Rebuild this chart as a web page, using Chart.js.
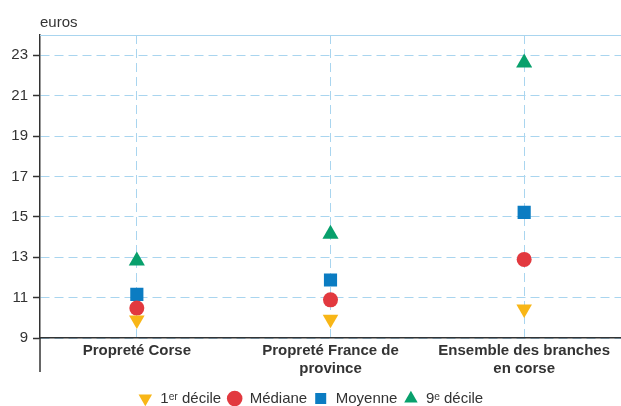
<!DOCTYPE html>
<html>
<head>
<meta charset="utf-8">
<script src="https://cdn.jsdelivr.net/npm/chart.js@4"></script>
<style>
  html, body { margin: 0; padding: 0; background: #fff; }
  #wrap { width: 621px; height: 406px; position: relative; }
</style>
</head>
<body>
<div id="wrap"><canvas id="c" width="621" height="406"></canvas></div>
<script>
// categories (multi-line labels)
const CATEGORIES = [
  ['Propreté Corse'],
  ['Propreté France de', 'province'],
  ['Ensemble des branches', 'en corse'],
];
const Y_TICKS = [9, 11, 13, 15, 17, 19, 21, 23];

// salaire horaire, euros
const DECILE1  = [9.89, 9.93, 10.44];
const MEDIANE  = [10.48, 10.89, 12.89];
const MOYENNE  = [11.16, 11.87, 15.22];
const DECILE9  = [12.82, 14.14, 22.62];

const GRID = '#a9d5ef';
const DARK = '#333333';
const FONT = '"Liberation Sans", Arial, sans-serif';

// "euros" + top border + y axis going below the x axis
const extras = {
  id: 'extras',
  afterDraw(chart) {
    const { ctx, chartArea: a } = chart;
    ctx.save();
    ctx.strokeStyle = GRID;
    ctx.lineWidth = 1;
    ctx.beginPath();
    ctx.moveTo(a.left, a.top + 0.5);
    ctx.lineTo(a.right, a.top + 0.5);
    ctx.stroke();
    ctx.strokeStyle = DARK;
    ctx.lineWidth = 1.5;
    ctx.beginPath();
    ctx.moveTo(a.left, a.bottom);
    ctx.lineTo(a.left, a.bottom + 34);
    ctx.stroke();
    ctx.fillStyle = DARK;
    ctx.font = '15px ' + FONT;
    ctx.textBaseline = 'alphabetic';
    ctx.fillText('euros', a.left, 27);
    ctx.restore();
  }
};

function ds(label, data, color, style, rotation, radius) {
  return {
    label, data,
    showLine: false,
    pointStyle: style,
    rotation: rotation,
    pointRadius: radius,
    pointHoverRadius: radius,
    backgroundColor: color,
    borderColor: color,
    borderWidth: 0,
  };
}

new Chart(document.getElementById('c'), {
  type: 'line',
  data: {
    labels: CATEGORIES,
    datasets: [
      ds('1ᵉʳ décile', DECILE1, '#f8b617', 'triangle', 180, 9),
      ds('Médiane', MEDIANE, '#e2393f', 'circle', 0, 7.5),
      ds('Moyenne', MOYENNE, '#0b7cc2', 'rect', 0, 9.3),
      ds('9ᵉ décile', DECILE9, '#08a06c', 'triangle', 0, 9.3),
    ],
  },
  options: {
    responsive: false,
    animation: false,
    devicePixelRatio: 1,
    layout: { autoPadding: false, padding: { top: 35, left: 0, right: 0, bottom: -10 } },
    plugins: {
      tooltip: { enabled: false },
      legend: {
        position: 'bottom',
        labels: {
          usePointStyle: true,
          boxHeight: 11,
          padding: 6,
          color: DARK,
          font: { family: FONT, size: 15 },
        },
      },
    },
    scales: {
      x: {
        offset: true,
        grid: { offset: false, color: GRID, drawTicks: false, lineWidth: 1 },
        border: { color: DARK, width: 1.5, dash: [9, 5] },
        ticks: {
          color: DARK, padding: 4,
          font: { family: FONT, size: 15, weight: 'bold', lineHeight: 1.2 },
          maxRotation: 0, autoSkip: false,
        },
        afterFit: (s) => { s.height = 47; s.paddingLeft = 0; s.paddingRight = 0; },
      },
      y: {
        min: 9, max: 24,
        afterBuildTicks: (s) => { s.ticks = Y_TICKS.map(v => ({ value: v })); },
        grid: { color: GRID, tickColor: DARK, tickLength: 7, tickWidth: 1.5, tickBorderDash: [] },
        border: { color: DARK, width: 1.5, dash: [9, 5] },
        ticks: {
          color: DARK, padding: 5,
          font: { family: FONT, size: 15 },
        },
        afterFit: (s) => { s.width = 40; s.paddingTop = 0; s.paddingBottom = 0; },
      },
    },
  },
  plugins: [extras],
});
</script>
</body>
</html>
